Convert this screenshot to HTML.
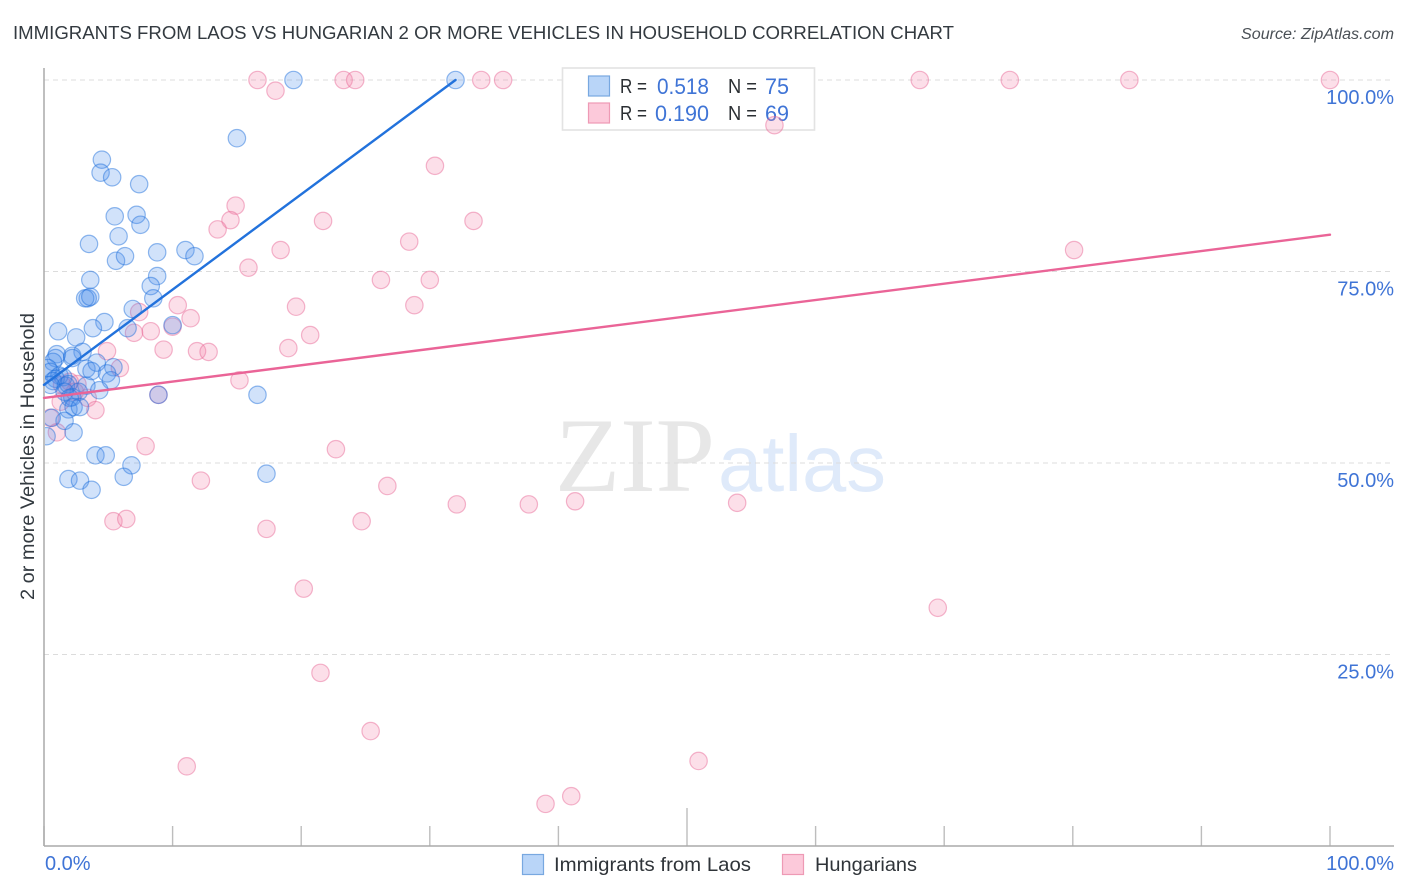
<!DOCTYPE html>
<html lang="en">
<head>
<meta charset="utf-8">
<title>Immigrants from Laos vs Hungarian 2 or more Vehicles in Household Correlation Chart</title>
<style>
html,body{margin:0;padding:0;background:#fff;width:1406px;height:892px;overflow:hidden}
svg{display:block}
text{font-family:"Liberation Sans",Arial,sans-serif}
</style>
</head>
<body>
<svg id="chart" xmlns="http://www.w3.org/2000/svg" width="1406" height="892" viewBox="0 0 1406 892">
  <rect x="0" y="0" width="1406" height="892" fill="#ffffff"/>
  <text x="13" y="39" font-size="18.5" fill="#333a40" textLength="941" lengthAdjust="spacingAndGlyphs">IMMIGRANTS FROM LAOS VS HUNGARIAN 2 OR MORE VEHICLES IN HOUSEHOLD CORRELATION CHART</text>
  <text x="1394" y="39" font-size="15.5" font-style="italic" fill="#4a5056" text-anchor="end" textLength="153" lengthAdjust="spacingAndGlyphs">Source: ZipAtlas.com</text>
  <text x="555" y="491" font-size="106" fill="#e7e7e7" textLength="160" lengthAdjust="spacingAndGlyphs" style="font-family:'Liberation Serif',serif">ZIP</text>
  <text x="718" y="491" font-size="80" fill="#dfeafa" textLength="168" lengthAdjust="spacingAndGlyphs">atlas</text>
  <g id="grid"></g>
  <g id="ticks"></g>
  <line x1="44" y1="68" x2="44" y2="846" stroke="#aaaaaa" stroke-width="1.5"/>
  <line x1="44" y1="846" x2="1394" y2="846" stroke="#aaaaaa" stroke-width="1.5"/>
  <text transform="translate(34 456.5) rotate(-90)" font-size="19.5" fill="#333a40" text-anchor="middle" textLength="287" lengthAdjust="spacingAndGlyphs">2 or more Vehicles in Household</text>
  <g id="tick-labels"></g>

  <g>
    <rect x="562.5" y="68" width="252" height="62" fill="#ffffff" stroke="#e3e3e3" stroke-width="1.6"/>
    <rect x="588.5" y="76" width="21" height="20" fill="#b9d5f8" stroke="#78a8e0" stroke-width="1.2"/>
    <rect x="588.5" y="103" width="21" height="20" fill="#fcc9da" stroke="#ee9ab5" stroke-width="1.2"/>
    <text x="620" y="93" font-size="20" fill="#2b2f33" textLength="27" lengthAdjust="spacingAndGlyphs">R =</text>
    <text x="657" y="94" font-size="22" fill="#3f74d6" textLength="52" lengthAdjust="spacingAndGlyphs">0.518</text>
    <text x="728" y="93" font-size="20" fill="#2b2f33" textLength="29" lengthAdjust="spacingAndGlyphs">N =</text>
    <text x="765" y="94" font-size="22" fill="#3f74d6" textLength="24" lengthAdjust="spacingAndGlyphs">75</text>
    <text x="620" y="120" font-size="20" fill="#2b2f33" textLength="27" lengthAdjust="spacingAndGlyphs">R =</text>
    <text x="655" y="121" font-size="22" fill="#3f74d6" textLength="54" lengthAdjust="spacingAndGlyphs">0.190</text>
    <text x="728" y="120" font-size="20" fill="#2b2f33" textLength="29" lengthAdjust="spacingAndGlyphs">N =</text>
    <text x="765" y="121" font-size="22" fill="#3f74d6" textLength="24" lengthAdjust="spacingAndGlyphs">69</text>
  </g>

  <defs>
    <clipPath id="plot-clip"><rect x="45" y="60" width="1350" height="786"/></clipPath>
  </defs>
  <g id="points" clip-path="url(#plot-clip)"></g>
  <g id="trends"></g>

  <g>
    <rect x="522.5" y="854.5" width="21" height="20" fill="#b9d5f8" stroke="#78a8e0" stroke-width="1.2"/>
    <text x="554" y="871" font-size="19.5" fill="#2f3439" textLength="197" lengthAdjust="spacingAndGlyphs">Immigrants from Laos</text>
    <rect x="782.5" y="854.5" width="21" height="20" fill="#fcc9da" stroke="#ee9ab5" stroke-width="1.2"/>
    <text x="815" y="871" font-size="19.5" fill="#2f3439" textLength="102" lengthAdjust="spacingAndGlyphs">Hungarians</text>
  </g>
</svg>
<script>
const xTickValues = [0, 10, 20, 30, 40, 50, 60, 70, 80, 90, 100];
const yGridValues = [25, 50, 75, 100];
const yTickLabels = ["25.0%", "50.0%", "75.0%", "100.0%"];
const xEndLabels = ["0.0%", "100.0%"];

const laosX = [19.4,32.0,15.0,4.5,4.4,5.3,7.4,5.5,7.2,7.5,5.8,3.5,5.6,6.3,8.8,11.0,11.7,8.8,3.6,8.3,
  3.4,3.2,3.6,8.5,6.9,4.7,3.8,6.5,10.0,1.1,2.5,3.0,2.2,1.0,0.9,0.7,3.3,4.1,5.4,3.7,4.9,5.2,2.2,
  0.3,0.5,1.2,1.5,0.9,0.7,0.5,1.7,1.9,3.3,4.3,2.7,2.2,1.6,2.0,
  1.9,2.3,2.8,1.6,2.3,0.6,0.2,
  4.0,4.8,6.8,6.2,1.9,2.8,3.7,
  16.6,8.9,17.3];
const laosY = [100,100,92.4,89.6,87.9,87.3,86.4,82.2,82.4,81.1,79.6,78.6,76.4,77.0,77.5,77.8,77.0,74.4,73.9,73.1,
  71.5,71.5,71.7,71.5,70.1,68.4,67.6,67.6,68.0,67.2,66.4,64.5,64.0,64.2,63.7,63.2,62.3,63.1,62.5,62.0,61.7,60.8,63.7,
  62.4,61.9,61.4,61.2,61.0,60.7,60.2,60.1,60.3,60.1,59.5,59.3,58.6,59.3,58.5,
  57.0,57.3,57.3,55.5,54.0,55.9,53.5,
  51.0,51.0,49.7,48.2,47.9,47.7,46.5,
  58.9,58.9,48.6];

const hungX = [16.6,23.3,24.2,34.0,35.7,68.1,75.1,84.4,100,
  18.0,56.8,30.4,14.9,14.5,13.5,21.7,33.4,28.4,18.4,
  80.1,15.9,26.2,30.0,19.6,28.8,10.4,11.4,7.4,8.3,
  7.0,10.0,20.7,19.0,9.3,11.9,12.8,4.9,5.9,15.2,
  8.9,2.6,2.0,1.4,2.4,1.3,3.4,4.0,0.5,1.0,
  7.9,22.7,12.2,26.7,32.1,37.7,41.3,53.9,24.7,5.4,
  6.4,17.3,20.2,69.5,21.5,25.4,11.1,50.9,39.0,41.0];
const hungY = [100,100,100,100,100,100,100,100,100,
  98.6,94.1,88.8,83.6,81.7,80.5,81.6,81.6,78.9,77.8,
  77.8,75.5,73.9,73.9,70.4,70.6,70.6,68.9,69.7,67.2,
  67.0,67.8,66.7,65.0,64.8,64.6,64.5,64.6,62.4,60.8,
  58.9,60.3,60.6,60.2,59.3,58.0,58.5,56.9,55.9,54.0,
  52.2,51.8,47.7,47.0,44.6,44.6,45.0,44.8,42.4,42.4,
  42.7,41.4,33.6,31.1,22.6,15.0,10.4,11.1,5.5,6.5];

const laosTrendX = [0, 32.0];
const laosTrendY = [60.2, 100];
const hungTrendX = [0, 100];
const hungTrendY = [58.5, 79.8];

const SVGNS = 'http://www.w3.org/2000/svg';
function sx(v) { return 44 + v * 12.86; }
function sy(v) { return 846 - v * 7.66; }
function mk(tag, attrs, parent) {
  const el = document.createElementNS(SVGNS, tag);
  for (const k in attrs) el.setAttribute(k, attrs[k]);
  parent.appendChild(el);
  return el;
}

const grid = document.getElementById('grid');
yGridValues.forEach(function (v) {
  const gl = mk('line', {x1: 44, x2: 1394, y1: sy(v), y2: sy(v), stroke: '#dcdcdc', 'stroke-width': 1, 'stroke-dasharray': '5 4'}, grid);
  
  
});

const ticks = document.getElementById('ticks');
xTickValues.forEach(function (v) {
  const t = mk('line', {x1: sx(v), x2: sx(v), y1: v === 50 ? 808 : 826, y2: 846, stroke: '#bdbdbd', 'stroke-width': 1.4}, ticks);
  
  
});

const labels = document.getElementById('tick-labels');
yGridValues.forEach(function (v, i) {
  const l = mk('text', {x: 1394, y: sy(v) + 24, 'font-size': 20, fill: '#3f74d6', 'text-anchor': 'end'}, labels);
  l.textContent = yTickLabels[i];
  
  
});
const x0 = mk('text', {x: 45, y: 870, 'font-size': 20, fill: '#3f74d6'}, labels);
x0.textContent = xEndLabels[0];


const x1 = mk('text', {x: 1394, y: 870, 'font-size': 20, fill: '#3f74d6', 'text-anchor': 'end'}, labels);
x1.textContent = xEndLabels[1];



const points = document.getElementById('points');
hungX.forEach(function (v, i) {
  const c = mk('circle', {cx: sx(v), cy: sy(hungY[i]), r: 8.7, fill: 'rgba(245,130,170,0.26)', stroke: 'rgba(232,105,150,0.48)', 'stroke-width': 1.2}, points);
  
  
});
laosX.forEach(function (v, i) {
  const c = mk('circle', {cx: sx(v), cy: sy(laosY[i]), r: 8.7, fill: 'rgba(70,140,235,0.25)', stroke: 'rgba(30,110,220,0.48)', 'stroke-width': 1.2}, points);
  
  
});

const trends = document.getElementById('trends');
const laosLine = mk('line', {x1: sx(laosTrendX[0]), y1: sy(laosTrendY[0]), x2: sx(laosTrendX[1]), y2: sy(laosTrendY[1]), stroke: '#2272dc', 'stroke-width': 2.4, 'stroke-linecap': 'round'}, trends);


const hungLine = mk('line', {x1: sx(hungTrendX[0]), y1: sy(hungTrendY[0]), x2: sx(hungTrendX[1]), y2: sy(hungTrendY[1]), stroke: '#ea6497', 'stroke-width': 2.4, 'stroke-linecap': 'round'}, trends);


</script>
</body>
</html>
